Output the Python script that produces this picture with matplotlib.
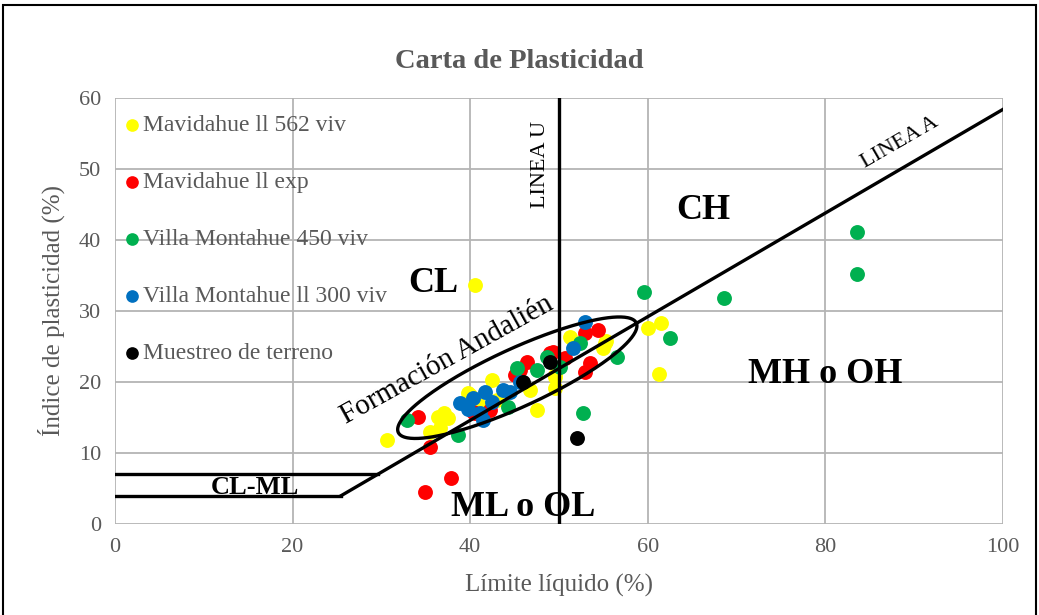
import matplotlib.pyplot as plt
from matplotlib.patches import Rectangle
import numpy as np

plt.rcParams['font.family'] = ['Liberation Serif', 'DejaVu Serif']

# Data (limite liquido, indice de plasticidad)
amarillo_x = [30.6, 40.5, 36.4, 37.5, 35.5, 36.6, 40.0, 42.5, 60.0, 61.5, 61.3, 55.3, 55.0,
              37.0, 39.8, 47.5, 49.5, 49.5, 51.2, 55.2, 49.5, 46.7, 43.0, 41.0]
amarillo_y = [11.8, 33.7, 15.1, 14.9, 13.0, 13.5, 18.2, 20.3, 27.6, 28.3, 21.1, 25.8, 24.8,
              15.6, 18.5, 16.1, 20.7, 19.2, 26.3, 25.5, 21.0, 18.9, 17.5, 16.8]

rojo_x = [34.1, 35.5, 34.9, 37.8, 40.5, 42.2, 45.6, 49.0, 40.3, 46.4, 49.3, 50.7, 52.9, 54.4,
          53.5, 52.9, 45.0]
rojo_y = [15.1, 10.8, 4.5, 6.5, 15.6, 16.0, 21.7, 24.1, 15.8, 22.8, 24.2, 23.4, 26.9, 27.3,
          22.7, 21.4, 21.0]

verde_x = [32.9, 38.6, 59.6, 68.6, 62.5, 56.5, 52.7, 83.6, 83.6, 45.3, 47.5, 44.3, 48.6,
           52.4, 50.1]
verde_y = [14.6, 12.5, 32.7, 31.8, 26.2, 23.5, 15.6, 41.1, 35.2, 22.0, 21.7, 16.5, 23.5,
           25.5, 22.1]

azul_x = [38.9, 40.3, 41.7, 41.1, 41.4, 43.7, 45.6, 44.5, 52.9, 51.6, 42.5, 39.8]
azul_y = [17.0, 17.7, 18.6, 15.6, 14.6, 18.9, 20.0, 18.6, 28.5, 24.8, 17.2, 16.2]

negro_x = [49.0, 45.9, 52.0]
negro_y = [22.8, 20.0, 12.1]

series = [
    ('Mavidahue ll 562 viv', amarillo_x, amarillo_y, '#ffff00'),
    ('Mavidahue ll exp', rojo_x, rojo_y, '#ff0000'),
    ('Villa Montahue 450 viv', verde_x, verde_y, '#00b050'),
    ('Villa Montahue ll 300 viv', azul_x, azul_y, '#0070c0'),
    ('Muestreo de terreno', negro_x, negro_y, '#000000'),
]

# Carta de Casagrande
linea_a_x = [25.5, 100]
linea_a_y = [0.73 * (25.5 - 20), 0.73 * (100 - 20)]

gris = '#595959'

fig = plt.figure(figsize=(10.39, 6.15), dpi=100)
ax = fig.add_axes([0.1107, 0.148, 0.8547, 0.6927])

for nombre, xs, ys, c in series:
    ax.scatter(xs, ys, s=115, color=c, label=nombre, zorder=3, linewidths=0)

# lineas de la carta
ax.plot(linea_a_x, linea_a_y, color='black', lw=2.4, zorder=4)
ax.plot([0, 25.5], [4, 4], color='black', lw=2.4, zorder=4)
ax.plot([0, 29.6], [7, 7], color='black', lw=2.4, zorder=4)
ax.plot([50, 50], [0, 60], color='black', lw=2.4, zorder=4)

# elipse (en escala de pixeles para que quede bien girada)
sx, sy = 8.88, 7.1
t = np.linspace(0, 2 * np.pi, 300)
ang = np.radians(24.7)
a, b = 131, 29
X = a * np.cos(t) * np.cos(ang) - b * np.sin(t) * np.sin(ang)
Y = a * np.cos(t) * np.sin(ang) + b * np.sin(t) * np.cos(ang)
ax.plot(45.3 + X / sx, 20.6 + Y / sy, color='black', lw=2.4, zorder=4)

# textos
ax.text(35.8, 33.9, 'CL', fontsize=26, fontweight='bold', ha='center', va='center', zorder=5)
ax.text(66.2, 44.2, 'CH', fontsize=26, fontweight='bold', ha='center', va='center', zorder=5)
ax.text(80.0, 21.0, 'MH o OH', fontsize=26, fontweight='bold', ha='center', va='center', zorder=5)
ax.text(46.0, 2.3, 'ML o OL', fontsize=26, fontweight='bold', ha='center', va='center', zorder=5)
ax.text(15.8, 5.1, 'CL-ML', fontsize=19, fontweight='bold', ha='center', va='center', zorder=5)
ax.text(47.9, 50.6, 'LINEA U', fontsize=16, rotation=90, ha='center', va='center', zorder=5)
ax.text(88.4, 53.7, 'LINEA A', fontsize=16, rotation=30, ha='center', va='center', zorder=5)
ax.text(37.4, 23.1, 'Formación Andalién', fontsize=21, rotation=29, ha='center', va='center',
        zorder=5)

ax.set_xlim(0, 100)
ax.set_ylim(0, 60)
ax.set_xticks(range(0, 101, 20))
ax.set_yticks(range(0, 61, 10))
ax.grid(True, color='#b4b4b4', lw=1.3, zorder=0)
ax.set_axisbelow(True)
for s in ax.spines.values():
    s.set_visible(False)
ax.tick_params(length=0, labelsize=16, labelcolor=gris, pad=10)
ax.set_xlabel('Límite líquido (%)', fontsize=18, color=gris, labelpad=12)
ax.set_ylabel('Índice de plasticidad (%)', fontsize=18, color=gris, labelpad=10)

ax.legend(loc='upper left', bbox_to_anchor=(-0.008, 1.0), frameon=False, fontsize=17,
          labelcolor=gris, markerscale=0.85, handlelength=0.6, handletextpad=0.2,
          labelspacing=1.5, borderpad=0.7, borderaxespad=0)

fig.text(0.5, 0.9, 'Carta de Plasticidad', fontsize=20.5, fontweight='bold', color=gris,
         ha='center', va='center')

fig.patches.append(Rectangle((0.003, -0.01), 0.994, 1.002, transform=fig.transFigure,
                             fill=False, edgecolor='black', lw=1.5))

fig.savefig('out.png', dpi=100)
